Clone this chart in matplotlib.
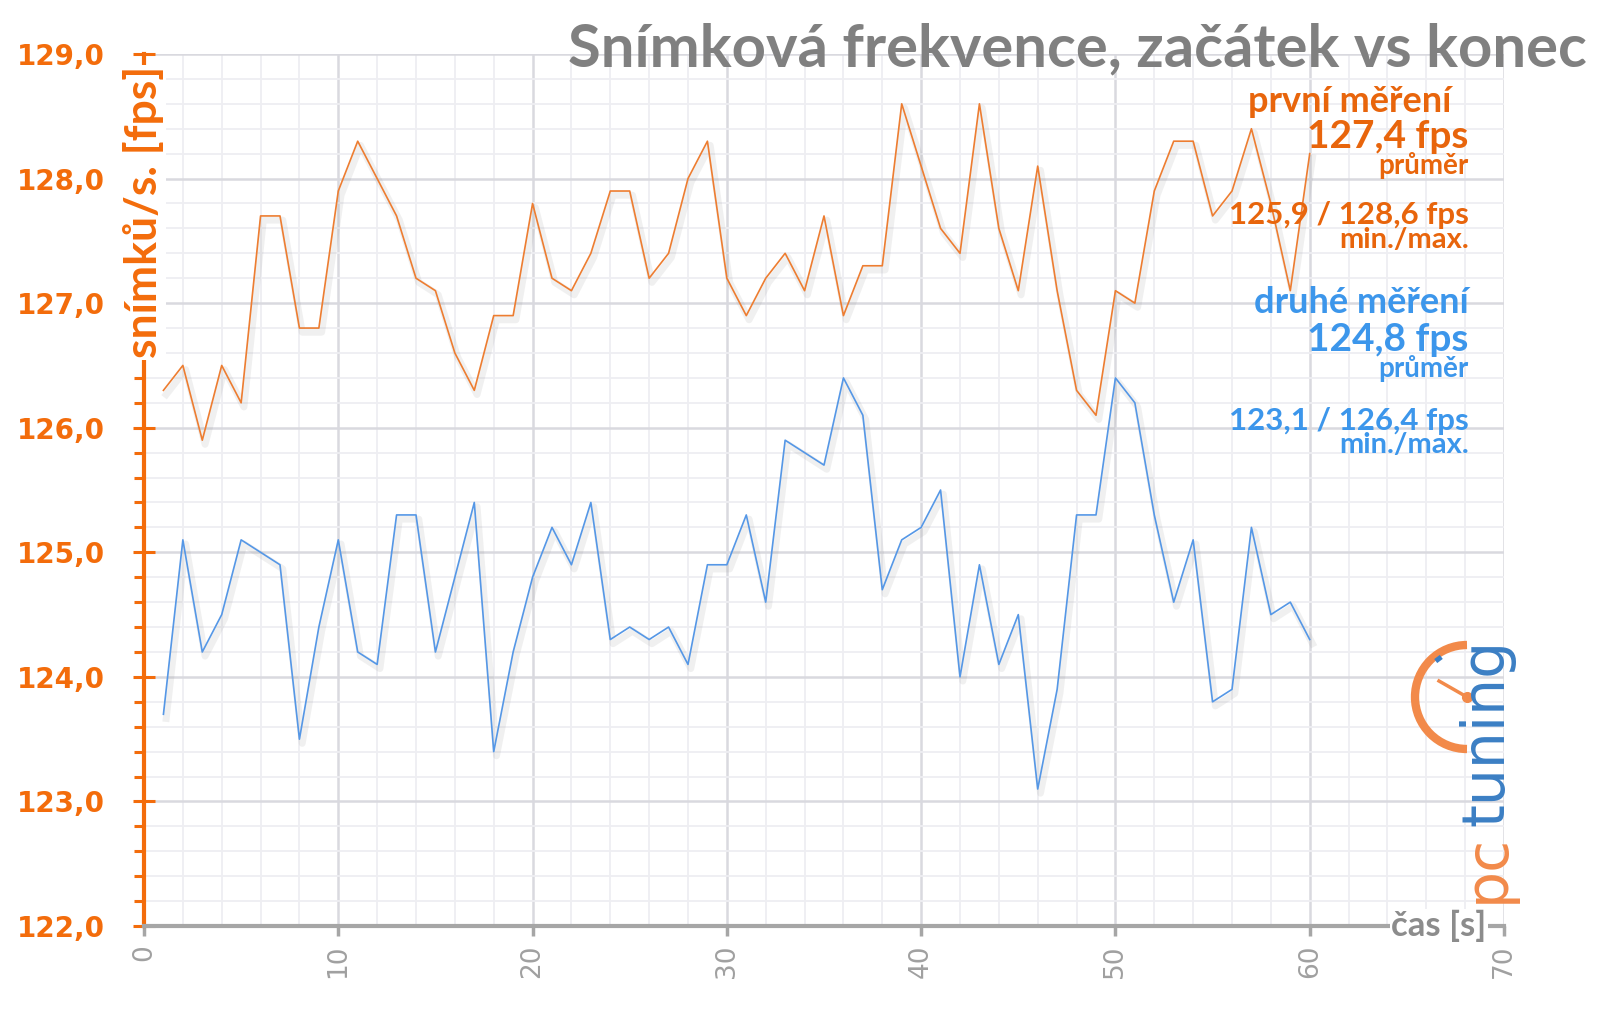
import matplotlib
matplotlib.use("Agg")
import matplotlib.pyplot as plt
import matplotlib.patheffects as pe
from matplotlib.patches import Arc
from matplotlib.ticker import MultipleLocator, FuncFormatter

# time [s]
cas = list(range(1, 61))

# first measurement (fps)
prvni = [126.3, 126.5, 125.9, 126.5, 126.2, 127.7, 127.7, 126.8, 126.8, 127.9,
         128.3, 128.0, 127.7, 127.2, 127.1, 126.6, 126.3, 126.9, 126.9, 127.8,
         127.2, 127.1, 127.4, 127.9, 127.9, 127.2, 127.4, 128.0, 128.3, 127.2,
         126.9, 127.2, 127.4, 127.1, 127.7, 126.9, 127.3, 127.3, 128.6, 128.1,
         127.6, 127.4, 128.6, 127.6, 127.1, 128.1, 127.1, 126.3, 126.1, 127.1,
         127.0, 127.9, 128.3, 128.3, 127.7, 127.9, 128.4, 127.8, 127.1, 128.2]

# second measurement (fps)
druhe = [123.7, 125.1, 124.2, 124.5, 125.1, 125.0, 124.9, 123.5, 124.4, 125.1,
         124.2, 124.1, 125.3, 125.3, 124.2, 124.8, 125.4, 123.4, 124.2, 124.8,
         125.2, 124.9, 125.4, 124.3, 124.4, 124.3, 124.4, 124.1, 124.9, 124.9,
         125.3, 124.6, 125.9, 125.8, 125.7, 126.4, 126.1, 124.7, 125.1, 125.2,
         125.5, 124.0, 124.9, 124.1, 124.5, 123.1, 123.9, 125.3, 125.3, 126.4,
         126.2, 125.3, 124.6, 125.1, 123.8, 123.9, 125.2, 124.5, 124.6, 124.3]

title = "Snímková frekvence, začátek vs konec"
popisky_prvni = ["první měření  ", "127,4 fps", "průměr", "125,9 / 128,6 fps", "min./max."]
popisky_druhe = ["druhé měření", "124,8 fps", "průměr", "123,1 / 126,4 fps", "min./max."]

ORANGE = "#F36C0B"
ORANGE_LINE = "#ED7D31"
ORANGE_TXT = "#E8650C"
BLUE_LINE = "#5597E6"
BLUE_TXT = "#3C96EB"
GRAY = "#8C8C8C"
FONT = ["Lato", "DejaVu Sans"]

fig = plt.figure(figsize=(16, 10.09), dpi=100)
fig.patch.set_facecolor("white")
ax = fig.add_axes([0.09, 0.0822, 0.85, 0.8643])

ax.set_xlim(0, 70)
ax.set_ylim(122, 129)
ax.xaxis.set_major_locator(MultipleLocator(10))
ax.xaxis.set_minor_locator(MultipleLocator(2))
ax.yaxis.set_major_locator(MultipleLocator(1))
ax.yaxis.set_minor_locator(MultipleLocator(0.2))
ax.grid(which="major", color="#D9D9DF", lw=1.8)
ax.grid(which="minor", color="#EEEEF2", lw=1.3)
ax.set_axisbelow(True)

shadow = [pe.SimpleLineShadow(offset=(2, -3), shadow_color="#888888", alpha=0.12, linewidth=5), pe.Normal()]
ax.plot(cas, prvni, color=ORANGE_LINE, lw=1.2, path_effects=shadow, zorder=3)
ax.plot(cas, druhe, color=BLUE_LINE, lw=1.2, path_effects=shadow, zorder=3)

for s in ["top", "right"]:
    ax.spines[s].set_visible(False)
ax.spines["left"].set_color(ORANGE)
ax.spines["left"].set_linewidth(3)
ax.spines["bottom"].set_color("#A6A6A6")
ax.spines["bottom"].set_linewidth(3)

ax.yaxis.set_major_formatter(FuncFormatter(lambda v, p: f"{v:.1f}".replace(".", ",")))
ax.tick_params(axis="y", which="major", direction="inout", length=16, width=2.2,
               color=ORANGE, labelcolor=ORANGE, labelsize=20, pad=20)
ax.tick_params(axis="y", which="minor", direction="out", length=7, width=2.2, color=ORANGE)
for lab in ax.get_yticklabels():
    lab.set_fontweight("bold")
ax.tick_params(axis="x", which="major", direction="out", length=7, width=2.5,
               color="#A6A6A6", labelcolor="#A0A0A0", labelsize=19, pad=6, labelrotation=90)
ax.tick_params(axis="x", which="minor", length=0)

ax.text(0, 127.73, "snímků/s. [fps]", rotation=90, ha="center", va="center",
        color=ORANGE, fontsize=32, fontweight="bold", family=FONT, zorder=5,
        bbox=dict(facecolor="white", edgecolor="none", pad=1))
ax.text(69.1, 122, "čas [s]", ha="right", va="center", color=GRAY, fontsize=25,
        fontweight="bold", family=FONT, zorder=5,
        bbox=dict(facecolor="white", edgecolor="none", pad=1))

fig.text(0.992, 0.951, title, ha="right", va="center", fontsize=43, fontweight="bold",
         color="#808080", family=FONT)

ys = [0.899, 0.865, 0.836, 0.787, 0.762]
sizes = [26, 28, 20, 22.5, 21]
for txt, y, fs in zip(popisky_prvni, ys, sizes):
    fig.text(0.918, y, txt, ha="right", va="center", fontsize=fs, fontweight="bold",
             color=ORANGE_TXT, family=FONT)
ys2 = [0.700, 0.664, 0.635, 0.583, 0.559]
for txt, y, fs in zip(popisky_druhe, ys2, sizes):
    fig.text(0.918, y, txt, ha="right", va="center", fontsize=fs, fontweight="bold",
             color=BLUE_TXT, family=FONT)

# pctuning logo
lax = fig.add_axes([(1467 - 70) / 1600, 1 - (697 + 70) / 1009, 140 / 1600, 140 / 1009])
lax.set_xlim(-70, 70)
lax.set_ylim(-70, 70)
lax.axis("off")
lax.add_patch(Arc((0, 0), 104, 104, theta1=90, theta2=270, color="#F28A4A", lw=6))
lax.plot([0, -28], [0, 16], color="#F28A4A", lw=2.5)
lax.plot([0], [0], "o", color="#F28A4A", ms=7)
lax.plot([-27, -30], [36, 40], color="#3B7FC4", lw=5, solid_capstyle="butt")
fig.text(1487 / 1600, 1 - 903 / 1009, "pc", rotation=90, ha="center", va="bottom",
         fontsize=42, color="#F28A4A")
fig.text(1487 / 1600, 1 - 826 / 1009, "tuning", rotation=90, ha="center", va="bottom",
         fontsize=42, color="#3B7FC4")

fig.savefig("out.png", dpi=100, facecolor="white")
